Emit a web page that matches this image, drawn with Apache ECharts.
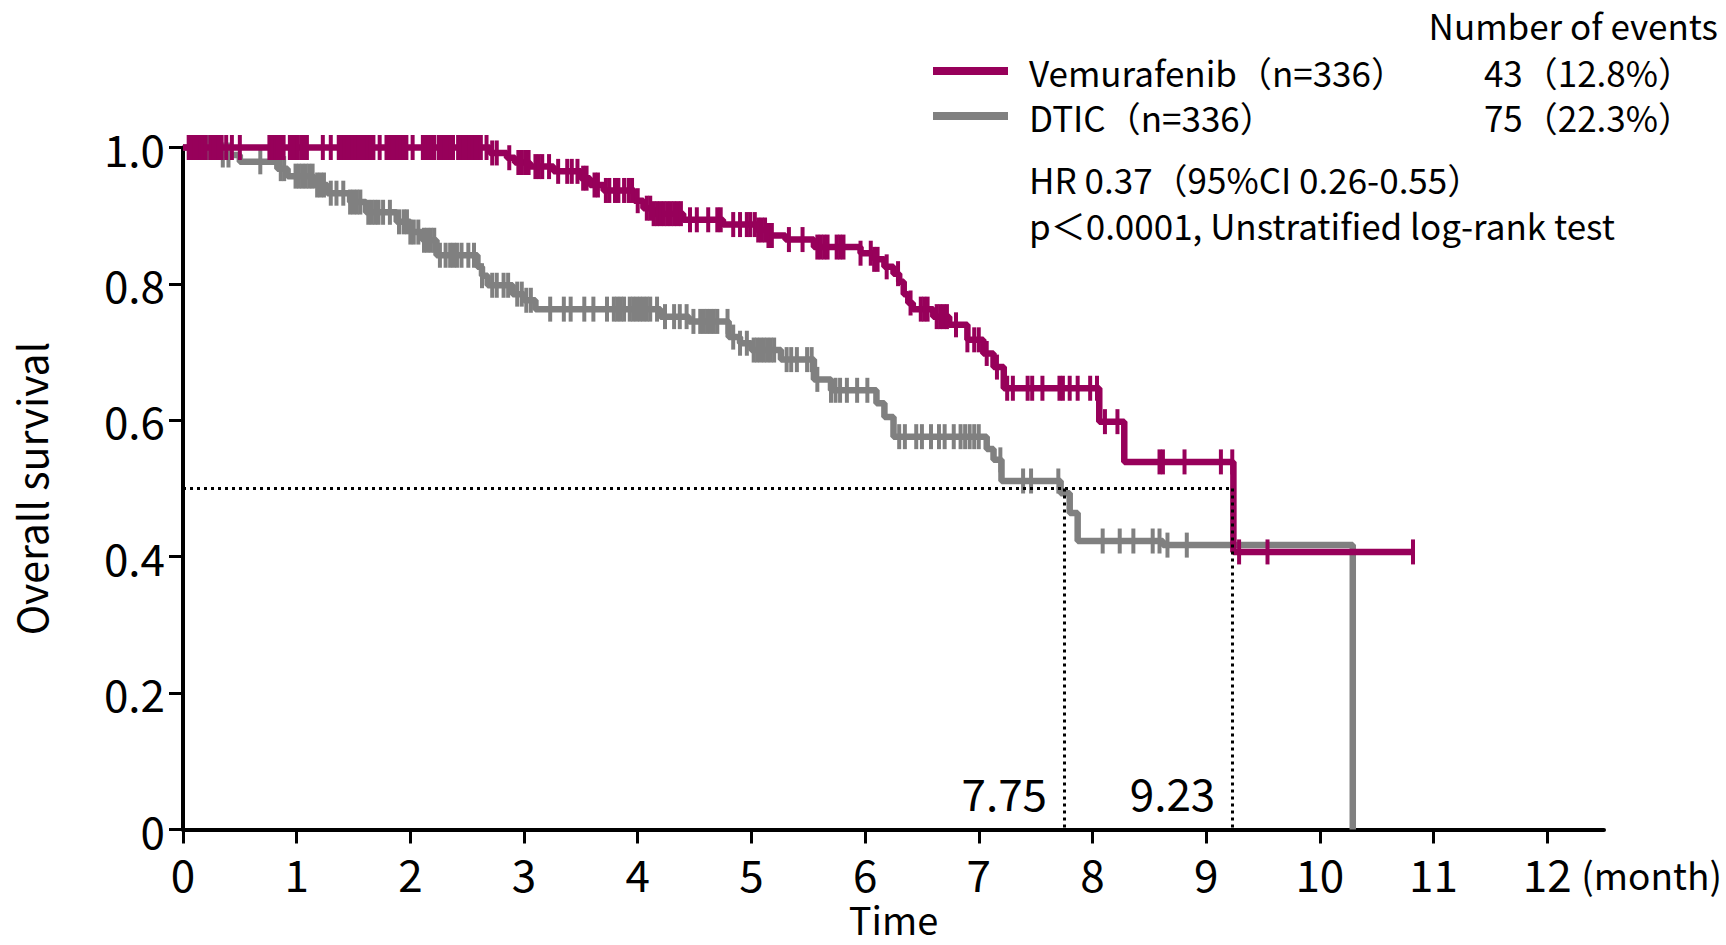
<!DOCTYPE html>
<html><head><meta charset="utf-8">
<script src="https://cdn.jsdelivr.net/npm/echarts@6/dist/echarts.min.js"></script>
<style>html,body{margin:0;padding:0;background:#fff}#c{width:1726px;height:945px}</style>
</head><body><div id="c"></div>
<script>
// ---------------- data ----------------
const seriesNames = ['Vemurafenib（n=336）', 'DTIC（n=336）'];
const eventLabels = ['43（12.8%）', '75（22.3%）'];
const annotations = ['Number of events', 'HR 0.37（95%CI 0.26-0.55）', 'p＜0.0001, Unstratified log-rank test'];
const xUnit = '(month)';
const xTicks = [0,1,2,3,4,5,6,7,8,9,10,11,12];
const yTicks = [0, 0.2, 0.4, 0.6, 0.8, 1.0];
const yTickLabels = ['0', '0.2', '0.4', '0.6', '0.8', '1.0'];
const medians = [7.75, 9.23];
const medianLevel = 0.5;

// Kaplan-Meier steps: [time, survival after event]
const vemSteps = [[0,1],[2.70,0.992],[2.85,0.985],[2.92,0.978],[3.05,0.972],[3.26,0.965],[3.50,0.955],[3.58,0.945],
  [3.70,0.937],[3.97,0.922],[4.05,0.911],[4.14,0.903],[4.40,0.894],[4.75,0.887],[5.05,0.879],[5.15,0.871],[5.30,0.865],
  [5.55,0.854],[5.96,0.845],[6.08,0.836],[6.17,0.825],[6.25,0.815],[6.30,0.803],[6.34,0.785],[6.38,0.772],[6.42,0.763],
  [6.60,0.752],[6.74,0.740],[6.90,0.718],[7.04,0.698],[7.13,0.678],[7.22,0.647],[8.06,0.598],[8.28,0.539],[9.24,0.407]];
const vemEnd = 10.82;
const vemCensor = [0.05,0.075,0.10,0.125,0.15,0.175,0.20,0.24,0.265,0.29,0.315,0.34,0.38,0.43,0.50,
  0.76,0.785,0.81,0.835,0.86,0.885,0.94,0.965,0.99,1.01,1.04,1.065,1.09,1.23,1.30,
  1.37,1.395,1.42,1.445,1.47,1.495,1.52,1.545,1.57,1.60,1.625,1.65,1.675,1.73,
  1.79,1.815,1.84,1.865,1.89,1.915,1.94,1.965,2.02,2.11,2.135,2.16,2.185,2.21,
  2.25,2.275,2.30,2.325,2.35,2.375,2.42,2.445,2.47,2.495,2.52,2.545,2.57,2.595,2.62,2.67,2.72,2.76,
  2.87,2.95,2.98,3.01,3.04,3.10,3.13,3.16,3.22,3.30,3.38,3.42,3.47,3.52,3.55,3.62,3.65,3.72,3.75,3.80,3.83,3.88,3.92,
  3.95,4.00,4.08,4.11,4.14,4.17,4.20,4.23,4.26,4.29,4.32,4.35,4.38,4.46,4.52,4.62,4.70,4.73,4.84,4.90,4.96,4.99,5.03,
  5.06,5.09,5.12,5.15,5.18,5.33,5.45,5.58,5.61,5.64,5.67,5.75,5.78,5.81,5.96,6.05,6.08,6.11,6.19,6.29,6.40,6.49,6.52,
  6.55,6.63,6.66,6.69,6.72,6.80,6.90,6.96,7.00,7.07,7.16,7.25,7.30,7.43,7.47,7.56,7.71,7.74,7.80,7.87,7.98,8.04,8.11,
  8.22,8.59,8.62,8.81,9.13,9.23,9.29,9.54,10.82];

const dticSteps = [[0,1],[0.30,0.989],[0.50,0.979],[0.83,0.969],[0.92,0.958],[1.15,0.945],[1.27,0.933],[1.47,0.920],
  [1.61,0.905],[1.88,0.891],[2.00,0.876],[2.11,0.864],[2.23,0.842],[2.59,0.825],[2.63,0.812],[2.68,0.798],[2.90,0.785],
  [3.00,0.776],[3.10,0.763],[4.20,0.752],[4.45,0.745],[4.80,0.722],[4.90,0.713],[5.00,0.703],[5.26,0.689],[5.55,0.660],
  [5.70,0.644],[6.10,0.625],[6.17,0.605],[6.25,0.576],[7.07,0.558],[7.13,0.542],[7.20,0.511],[7.72,0.493],[7.80,0.464],
  [7.87,0.423],[8.62,0.417],[10.29,0]];
const dticCensor = [0.10,0.15,0.22,0.35,0.40,0.68,0.86,0.89,0.99,1.02,1.05,1.08,1.11,1.14,1.18,1.21,1.24,1.30,1.35,1.41,
  1.47,1.50,1.53,1.56,1.63,1.66,1.69,1.72,1.76,1.82,1.90,1.94,1.97,2.00,2.03,2.07,2.12,2.15,2.18,2.21,2.26,2.31,2.35,2.38,
  2.41,2.45,2.51,2.56,2.63,2.72,2.76,2.82,2.86,2.94,2.98,3.02,3.06,3.23,3.35,3.41,3.53,3.61,3.73,3.79,3.82,3.85,3.88,3.93,
  3.96,3.99,4.02,4.05,4.08,4.11,4.17,4.24,4.32,4.37,4.43,4.49,4.55,4.58,4.61,4.64,4.67,4.70,4.79,4.84,4.90,4.96,5.02,5.05,
  5.08,5.11,5.14,5.17,5.20,5.31,5.35,5.40,5.49,5.53,5.58,5.70,5.74,5.78,5.84,5.93,6.02,6.30,6.35,6.45,6.50,6.58,6.65,6.70,
  6.78,6.84,6.88,6.92,6.96,7.00,7.19,7.39,7.46,7.70,8.09,8.24,8.36,8.53,8.59,8.66,8.83];

// ---------------- helpers ----------------
const COLORS = ['#97005A', '#808080'];
const FONT = "'Noto Sans CJK JP','Noto Sans',sans-serif";
function survAt(steps, t) { let s = steps[0][1]; for (const p of steps) { if (p[0] <= t) s = p[1]; else break; } return s; }
function curve(steps, end) { const d = steps.map(p => [p[0], p[1]]); if (end != null) d.push([end, steps[steps.length-1][1]]); return d; }

const chart = echarts.init(document.getElementById('c'), null, {renderer: 'svg', width: 1726, height: 945});

const kmLine = (name, data, color, z) => ({
  name, type: 'line', step: 'end', data, showSymbol: false, symbol: 'none', clip: false, z,
  color, lineStyle: {color, width: 6.5}, itemStyle: {color}, emphasis: {disabled: true}, silent: true
});
const censorMarks = (name, steps, times, color, z) => ({
  name, type: 'scatter', data: times.map(t => [t, survAt(steps, t)]), symbol: 'rect', symbolSize: [4, 25],
  itemStyle: {color, opacity: 1}, clip: false, z, silent: true, emphasis: {disabled: true}
});

const LEG = 35;
const textEl = (x, y, text, size, align) => ({
  type: 'text', x, y,
  style: {text, font: `${size}px ${FONT}`, lineHeight: size + 2, fill: '#000', align: align || 'left', verticalAlign: 'middle'}
});

const option = {
  animation: false,
  backgroundColor: '#fff',
  grid: {left: 183, right: 122, top: 147.5, bottom: 115.5, containLabel: false, outerBoundsMode: 'none'},
  xAxis: {
    type: 'value', min: 0, max: 12.5, interval: 1,
    axisLine: {show: true, lineStyle: {color: '#000', width: 4}},
    axisTick: {show: true, length: 14, customValues: xTicks, lineStyle: {color: '#000', width: 3}},
    axisLabel: {customValues: xTicks, fontSize: 44, lineHeight: 44, fontFamily: FONT, color: '#000', margin: 21},
    splitLine: {show: false},
    name: 'Time', nameLocation: 'middle', nameGap: 70,
    nameTextStyle: {fontSize: 38, lineHeight: 38, fontFamily: FONT, color: '#000'}
  },
  yAxis: {
    type: 'value', min: 0, max: 1, interval: 0.2,
    axisLine: {show: true, lineStyle: {color: '#000', width: 4}},
    axisTick: {show: true, length: 14, lineStyle: {color: '#000', width: 3}},
    axisLabel: {fontSize: 44, lineHeight: 44, fontFamily: FONT, color: '#000', margin: 18,
      formatter: v => { const i = yTicks.findIndex(y => Math.abs(y - v) < 1e-9); return i >= 0 ? yTickLabels[i] : ''; }},
    splitLine: {show: false},
    name: 'Overall survival', nameLocation: 'middle', nameGap: 133, nameRotate: 90,
    nameTextStyle: {fontSize: 41, fontFamily: FONT, color: '#000'}
  },
  legend: {
    data: seriesNames, orient: 'vertical', left: 933, top: 51, padding: 0, icon: 'rect', itemWidth: 75, itemHeight: 8,
    itemGap: 5, selectedMode: false,
    formatter: name => `{a|${name}}{b|${eventLabels[seriesNames.indexOf(name)]}}`,
    textStyle: {fontFamily: FONT, fontSize: LEG, color: '#000', padding: [0, 0, 0, 16],
      rich: {a: {width: 424, height: 40, lineHeight: 40, fontSize: LEG, fontFamily: FONT, color: '#000'},
             b: {width: 240, height: 40, lineHeight: 40, align: 'right', fontSize: LEG, fontFamily: FONT, color: '#000'}}}
  },
  graphic: [
    textEl(1718, 24, annotations[0], 35, 'right'),
    textEl(1029, 178, annotations[1], LEG),
    textEl(1029, 224, annotations[2], LEG),
    textEl(1722, 874, xUnit, 37, 'right')
  ],
  series: [
    {
      name: 'median', type: 'line', data: [], silent: true,
      markLine: {
        silent: true, symbol: ['none', 'none'], label: {show: false},
        lineStyle: {type: [3, 4], color: '#000', width: 3},
        data: [[{coord: [0, medianLevel]}, {coord: [Math.max(...medians), medianLevel]}]]
          .concat(medians.map(m => [{coord: [m, medianLevel]}, {coord: [m, 0]}]))
      }
    },
    kmLine(seriesNames[1], curve(dticSteps, null), COLORS[1], 3),
    censorMarks('dticCensor', dticSteps, dticCensor, COLORS[1], 3),
    kmLine(seriesNames[0], curve(vemSteps, vemEnd), COLORS[0], 4),
    censorMarks('vemCensor', vemSteps, vemCensor, COLORS[0], 4),
    {
      name: 'medianLabels', type: 'scatter', data: medians.map(m => [m, 0]), symbolSize: 0, silent: true, z: 5,
      itemStyle: {opacity: 1},
      label: {show: true, formatter: p => p.value[0].toFixed(2), position: [-17, -38], align: 'right', verticalAlign: 'middle',
        fontSize: 44, lineHeight: 44, fontFamily: FONT, color: '#000'}
    }
  ]
};
chart.setOption(option);
</script>
</body></html>
